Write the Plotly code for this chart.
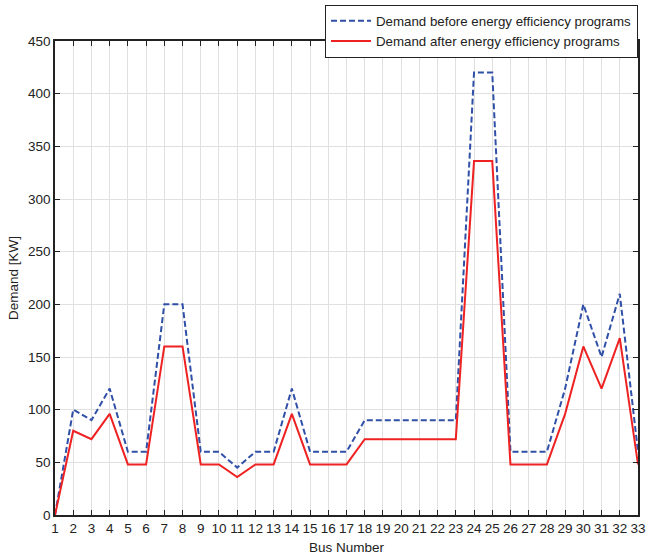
import plotly.graph_objects as go

buses = list(range(1, 34))
demand_before = [0, 100, 90, 120, 60, 60, 200, 200, 60, 60, 45, 60, 60, 120, 60, 60, 60,
                 90, 90, 90, 90, 90, 90, 420, 420, 60, 60, 60, 120, 200, 150, 210, 60]
demand_after = [0, 80, 72, 96, 48, 48, 160, 160, 48, 48, 36, 48, 48, 96, 48, 48, 48,
                72, 72, 72, 72, 72, 72, 336, 336, 48, 48, 48, 96, 160, 120, 168, 48]
y_ticks = [0, 50, 100, 150, 200, 250, 300, 350, 400, 450]

fig = go.Figure()
fig.add_trace(go.Scatter(x=buses, y=demand_before, mode="lines",
                         name="Demand before energy efficiency programs",
                         line=dict(color="#3050a8", width=2, dash="6px,3px")))
fig.add_trace(go.Scatter(x=buses, y=demand_after, mode="lines",
                         name="Demand after energy efficiency programs",
                         line=dict(color="#ee2222", width=2)))

font = dict(family="Liberation Sans, Arial", size=13.5, color="#222")
fig.update_layout(
    width=647, height=557,
    margin=dict(l=55, r=9, t=41, b=42, autoexpand=False),
    paper_bgcolor="white", plot_bgcolor="white",
    font=font,
    legend=dict(x=1.0, y=1.077, xanchor="right", yanchor="top",
                bgcolor="white", bordercolor="#222", borderwidth=1,
                font=dict(family="Liberation Sans, Arial", size=13.3, color="#222"),
                tracegroupgap=0, itemwidth=40),
    xaxis=dict(range=[1, 33], tickmode="array", tickvals=buses,
               ticktext=[str(b) for b in buses], automargin=False,
               ticklabeloverflow="allow",
               showgrid=True, gridcolor="#e0e0e0", gridwidth=1,
               ticks="inside", ticklen=5, tickcolor="#222",
               showline=True, linecolor="#222", linewidth=1.5, mirror="allticks",
               zeroline=False,
               title=dict(text="Bus Number", standoff=8, font=dict(size=13.5))),
    yaxis=dict(range=[0, 450], tickmode="array", tickvals=y_ticks, automargin=False,
               showgrid=True, gridcolor="#e0e0e0", gridwidth=1,
               ticks="inside", ticklen=5, tickcolor="#222",
               showline=True, linecolor="#222", linewidth=1.5, mirror="allticks",
               zeroline=False,
               title=dict(text="Demand [KW]", standoff=6, font=dict(size=13.5))),
)
fig.write_html("out.html")
